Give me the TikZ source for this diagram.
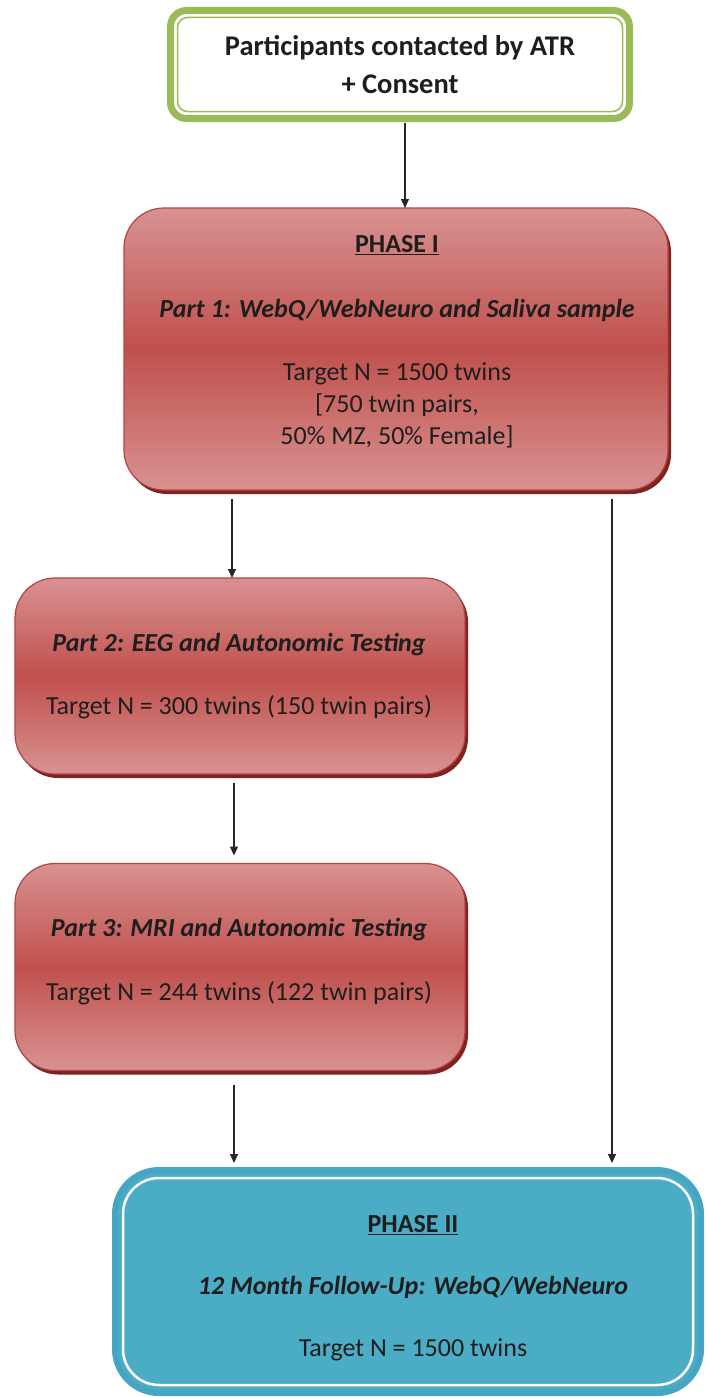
\documentclass[tikz,border=0pt]{standalone}
\usepackage{fontspec}
\setmainfont{Carlito}
\usetikzlibrary{arrows.meta,calc}

\definecolor{frameGreen}{RGB}{155,187,89}
\definecolor{redLight}{RGB}{216,146,145}
\definecolor{redDark}{RGB}{192,80,77}
\definecolor{redEdge}{RGB}{180,68,65}
\definecolor{redShadow}{RGB}{125,35,33}
\definecolor{tealFill}{RGB}{75,172,198}
\definecolor{tealEdge}{RGB}{70,165,192}
\definecolor{inkText}{RGB}{30,30,30}

\tikzset{
  txt/.style={font=\fontsize{26}{32}\selectfont, text=inkText, inner sep=0pt, align=center},
  headtxt/.style={txt, font=\fontsize{26}{32}\selectfont\bfseries},
  toptxt/.style={txt, font=\fontsize{28.5}{36}\selectfont\bfseries},
  parttxt/.style={txt, font=\fontsize{26}{32}\selectfont\bfseries\itshape},
  redbox/.style={rounded corners=40pt, draw=redEdge, line width=1.2pt, outer sep=0pt, inner sep=0pt,
    top color=redLight, bottom color=redLight, middle color=redDark,
    preaction={fill=redShadow, transform canvas={shift={(3pt,-4pt)}}}},
  startbox/.style={rounded corners=16pt, draw=frameGreen, line width=7pt, fill=white, outer sep=0pt, inner sep=0pt},
  endbox/.style={rounded corners=44pt, draw=tealEdge, line width=6pt, fill=tealFill, outer sep=0pt, inner sep=0pt},
  flow/.style={line width=1.2pt, draw=black!85, -{Triangle[length=9pt,width=8pt]}}
}

\begin{document}
\begin{tikzpicture}[x=1pt,y=-1pt]
\useasboundingbox (0,0) rectangle (705,1397);

% boxes
\node[startbox, minimum width=459pt, minimum height=108pt] (start) at (400,64.5) {};
\draw[frameGreen, line width=1.5pt, rounded corners=10pt]
  ($(start.north west)+(7,7)$) rectangle ($(start.south east)+(-7,-7)$);
\node[toptxt] (startA) at (400,48) {Participants contacted by ATR};
\node[toptxt] (startB) at (400,84) {+ Consent};

\node[redbox, minimum width=544pt, minimum height=282pt] (ph1) at (396,349) {};
\node[headtxt] (ph1title) at (397,245) {\underline{PHASE I}};
\node[parttxt] (ph1part) at (397,310) {Part 1: WebQ/WebNeuro and Saliva sample};
\node[txt] (ph1n) at (397,405) {Target N = 1500 twins\\[0pt][750 twin pairs,\\50\% MZ, 50\% Female]};

\node[redbox, minimum width=450pt, minimum height=196pt] (pt2) at (240,676) {};
\node[parttxt] (pt2title) at (239,645) {Part 2: EEG and Autonomic Testing};
\node[txt] (pt2n) at (239,707) {Target N = 300 twins (150 twin pairs)};

\node[redbox, minimum width=450pt, minimum height=207pt] (pt3) at (240,967) {};
\node[parttxt] (pt3title) at (239,930) {Part 3: MRI and Autonomic Testing};
\node[txt] (pt3n) at (239,993) {Target N = 244 twins (122 twin pairs)};

\node[endbox, minimum width=586pt, minimum height=223pt] (ph2) at (408,1281.5) {};
\draw[white, line width=2.5pt, rounded corners=36pt]
  ($(ph2.north west)+(8,8)$) rectangle ($(ph2.south east)+(-8,-8)$);
\node[headtxt] (ph2title) at (413,1225) {\underline{PHASE II}};
\node[parttxt] (ph2part) at (413,1287) {12 Month Follow-Up: WebQ/WebNeuro};
\node[txt] (ph2n) at (413,1350) {Target N = 1500 twins};

% connector lanes
\coordinate (laneA) at (405,0);
\coordinate (laneB) at (232,0);
\coordinate (laneC) at (612,0);
\coordinate (laneD) at (234,0);

\draw[flow, shorten <=4pt] (start.south -| laneA) -- (ph1.north -| laneA);
\draw[flow, shorten <=9pt] (ph1.south -| laneB) -- (pt2.north -| laneB);
\draw[flow, shorten <=9pt, shorten >=7pt] (ph1.south -| laneC) -- (ph2.north -| laneC);
\draw[flow, shorten <=9pt, shorten >=8pt] (pt2.south -| laneD) -- (pt3.north -| laneD);
\draw[flow, shorten <=14pt, shorten >=7pt] (pt3.south -| laneD) -- (ph2.north -| laneD);
\end{tikzpicture}
\end{document}
